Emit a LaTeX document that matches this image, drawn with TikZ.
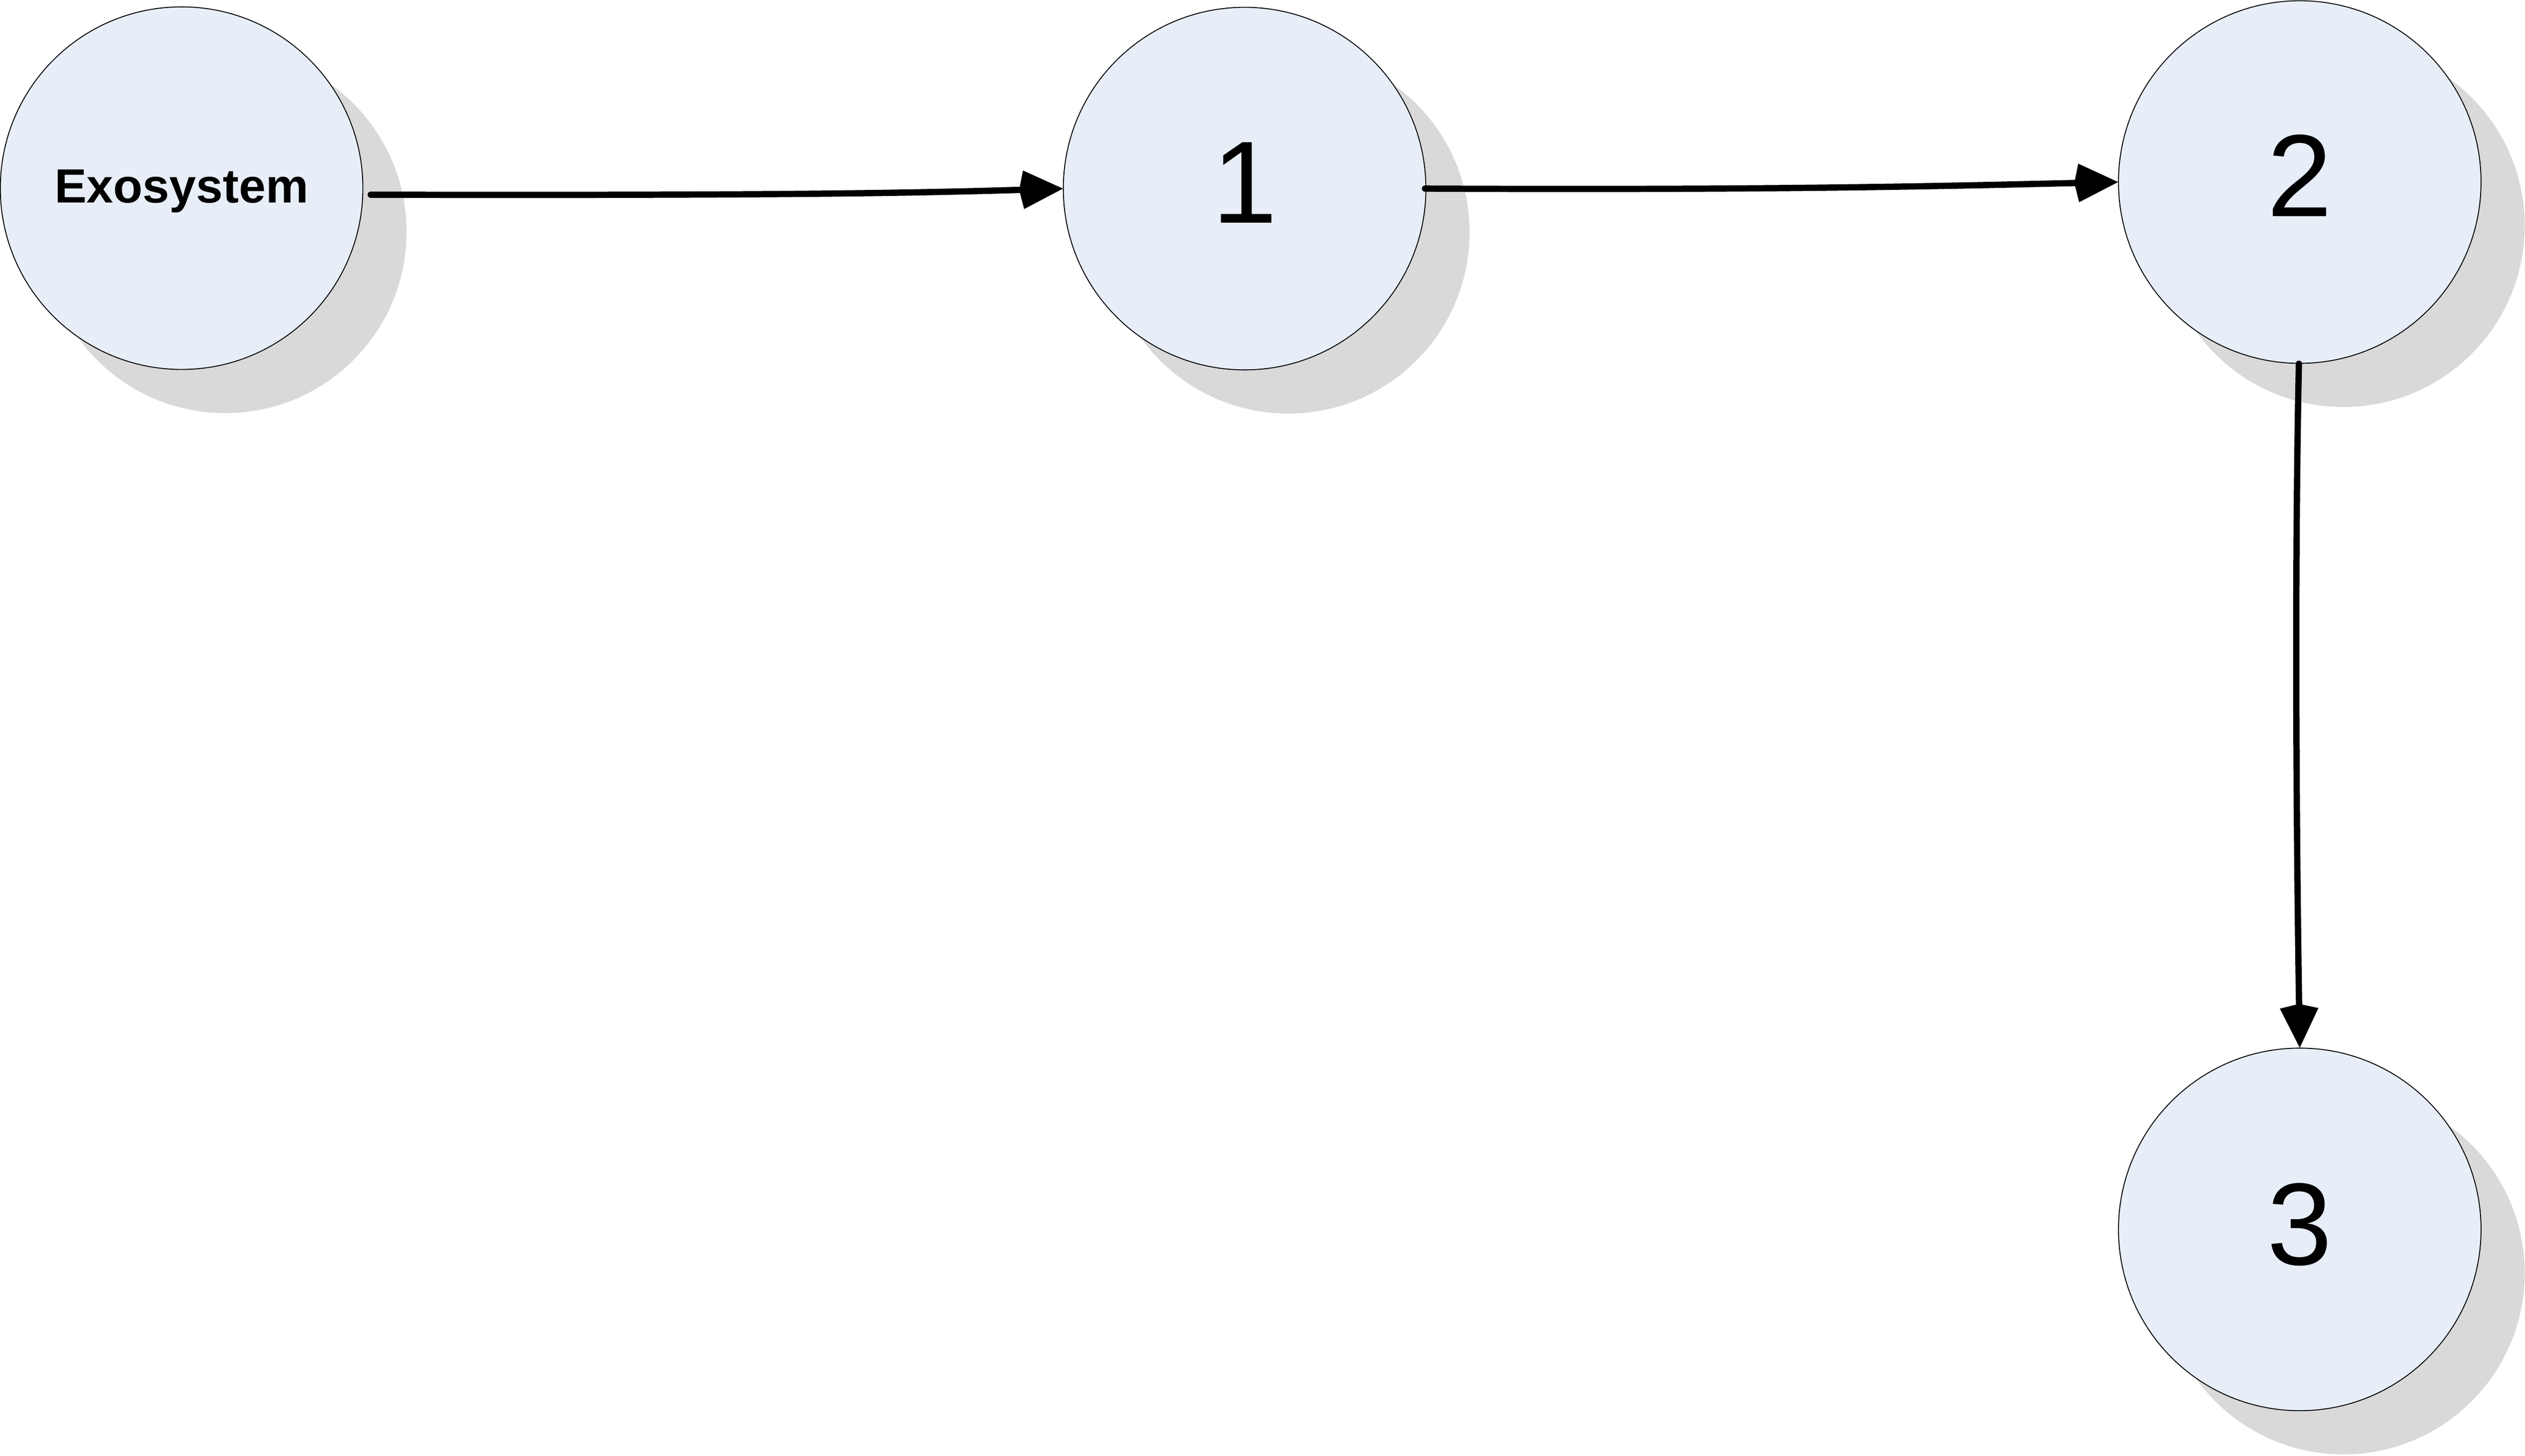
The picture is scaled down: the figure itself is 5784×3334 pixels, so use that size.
\documentclass[tikz,border=0pt]{standalone}
\usepackage{fontspec}
\setmainfont{Liberation Sans}
\usetikzlibrary{arrows.meta,calc}
\definecolor{nodefill}{RGB}{231,238,248}
\definecolor{shadowgray}{RGB}{217,217,217}
\begin{document}
\begin{tikzpicture}[x=0.01cm,y=-0.01cm,
  statenode/.style={circle, draw=black, line width=0.6pt, fill=nodefill, minimum size=8.3cm, inner sep=0pt},
  shadowfill/.style={fill=shadowgray, draw=none},
  labeltext/.style={inner sep=0pt, anchor=base, text=black},
  bigdigit/.style={labeltext, font=\fontsize{76.2pt}{90pt}\selectfont},
  exofont/.style={labeltext, font=\bfseries\fontsize{31.3pt}{38pt}\selectfont},
  conn/.style={line width=4.1pt, line cap=round, draw=black,
    -{Kite[length=1cm,width=0.88cm,inset=0.1cm,line width=0.01pt]}}
]
\useasboundingbox (0,0) rectangle (5784,3334);
% shadows
\fill[shadowfill] (516,531) circle[radius=4.15cm];
\fill[shadowfill] (2951,532) circle[radius=4.15cm];
\fill[shadowfill] (5368,517) circle[radius=4.15cm];
\fill[shadowfill] (5368,2916) circle[radius=4.15cm];
% nodes
\node[statenode] (ex) at (416,431) {};
\node[statenode] (n1) at (2851,432) {};
\node[statenode] (n2) at (5268,417) {};
\node[statenode] (n3) at (5268,2816) {};
% labels
\node[exofont] (exl) at ($(ex)+(0,33)$) {Exosystem};
\node[bigdigit] (n1l) at ($(n1)+(0,79)$) {1};
\node[bigdigit] (n2l) at ($(n2)+(0,79)$) {2};
\node[bigdigit] (n3l) at ($(n3)+(0,81)$) {3};
% connectors
\draw[conn] ($(ex.east)+(17,15)$) .. controls (1800,448) and (2100,442) .. (n1.west);
\draw[conn] ($(n1.east)+(-3,0)$) .. controls (4100,436) and (4500,425) .. (n2.west);
\draw[conn] ($(n2.south)+(-2,0)$) .. controls (5256,1300) and (5260,1900) .. (n3.north);
\end{tikzpicture}
\end{document}
